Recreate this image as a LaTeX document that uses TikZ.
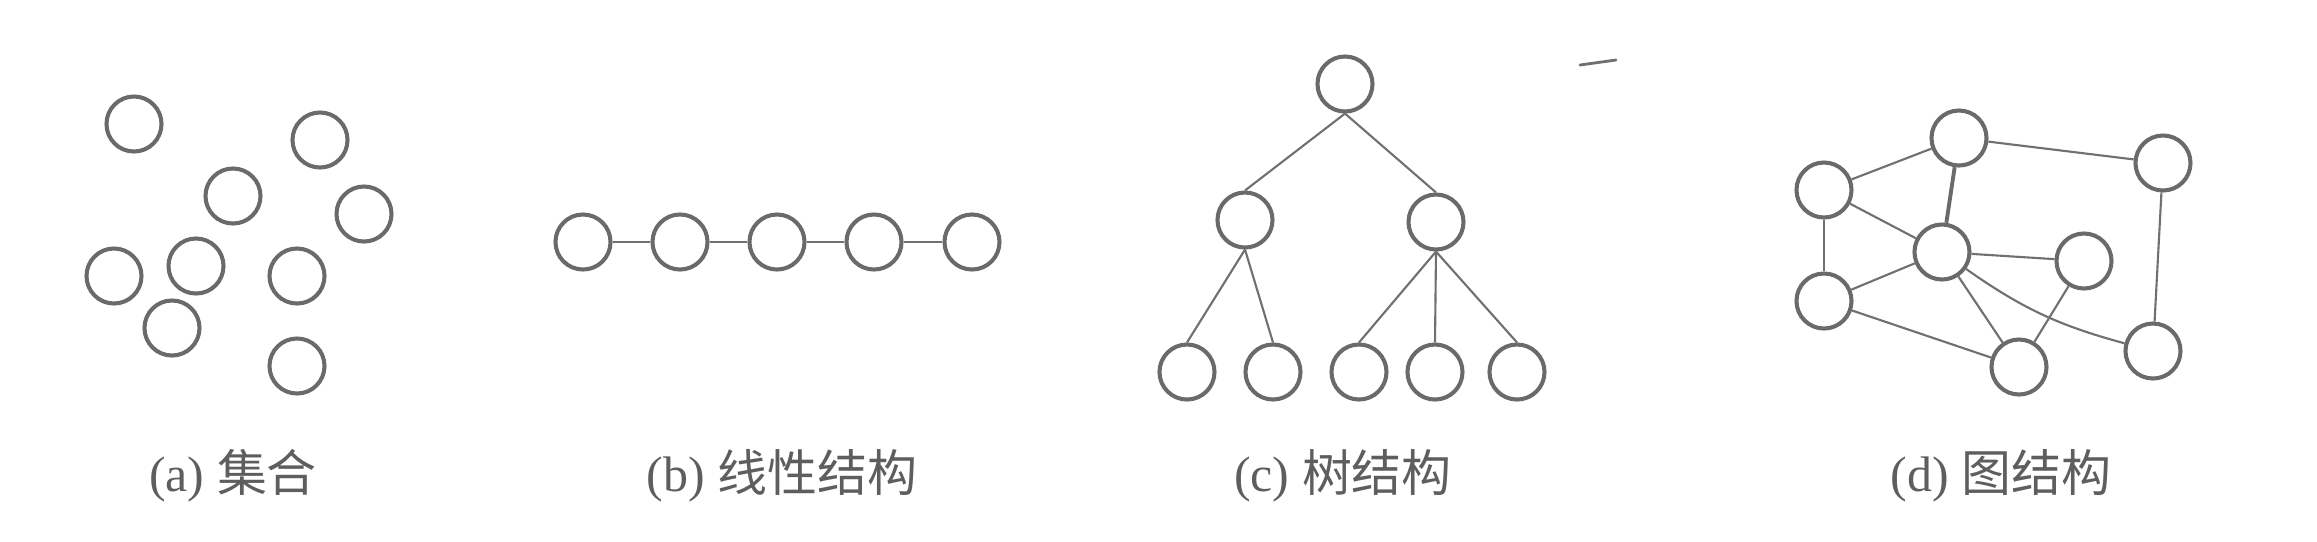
\documentclass[tikz,border=0pt]{standalone}
\usepackage{fontspec}
\setmainfont{Liberation Serif}
\newfontfamily\cjk{Noto Sans CJK SC}
\definecolor{ringgray}{HTML}{6A6A6A}
\definecolor{linegray}{HTML}{707070}
\definecolor{textgray}{HTML}{5E5E5E}
\begin{document}
\begin{tikzpicture}[x=0.01cm,y=-0.01cm,
  nd/.style={circle,draw=ringgray,line width=1.15pt,minimum size=0.55cm,inner sep=0pt},
  ln/.style={draw=linegray,line width=0.6pt},
  thk/.style={draw=ringgray,line width=1.1pt},
  lbl/.style={text=textgray,font=\fontsize{14.2pt}{17pt}\selectfont,inner sep=0pt},
  smudge/.style={draw=linegray,line width=0.8pt,line cap=round}]
\useasboundingbox (0,0) rectangle (2317,541);
\fill[white] (0,0) rectangle (2317,541);

% (a) set
\node[nd] (a1) at (134,124) {};
\node[nd] (a2) at (320,140) {};
\node[nd] (a3) at (233,196) {};
\node[nd] (a4) at (364,214) {};
\node[nd] (a5) at (114,276) {};
\node[nd] (a6) at (196,266) {};
\node[nd] (a7) at (297,276) {};
\node[nd] (a8) at (172,328) {};
\node[nd] (a9) at (297,366) {};
\node[lbl] (la) at (233,476) {(a) {\cjk 集合}};

% (b) linear
\node[nd] (b1) at (583,242) {};
\node[nd] (b2) at (680,242) {};
\node[nd] (b3) at (777,242) {};
\node[nd] (b4) at (874,242) {};
\node[nd] (b5) at (972,242) {};
\draw[ln] (b1) -- (b2);
\draw[ln] (b2) -- (b3);
\draw[ln] (b3) -- (b4);
\draw[ln] (b4) -- (b5);
\node[lbl] (lb) at (782,476) {(b) {\cjk 线性结构}};

% (c) tree
\node[nd] (c0) at (1345,84) {};
\node[nd] (c1) at (1245,220) {};
\node[nd] (c2) at (1436,222) {};
\node[nd] (c11) at (1187,372) {};
\node[nd] (c12) at (1273,372) {};
\node[nd] (c21) at (1359,372) {};
\node[nd] (c22) at (1435,372) {};
\node[nd] (c23) at (1517,372) {};
\draw[ln] (c0.south) -- (c1.north);
\draw[ln] (c0.south) -- (c2.north);
\draw[ln] (c1.south) -- (c11.north);
\draw[ln] (c1.south) -- (c12.north);
\draw[ln] (c2.south) -- (c21.north);
\draw[ln] (c2.south) -- (c22.north);
\draw[ln] (c2.south) -- (c23.north);
\node[lbl] (lc) at (1343,476) {(c) {\cjk 树结构}};

% scan mark
\coordinate (s1) at (1580,65);
\coordinate (s2) at (1616,60);
\draw[smudge] (s1) -- (s2);

% (d) graph
\node[nd] (dA) at (1959,138) {};
\node[nd] (dB) at (2163,163) {};
\node[nd] (dC) at (1824,190) {};
\node[nd] (dD) at (1942,252) {};
\node[nd] (dE) at (2084,261) {};
\node[nd] (dF) at (1824,301) {};
\node[nd] (dG) at (2019,367) {};
\node[nd] (dH) at (2153,351) {};
\draw[ln] (dC) -- (dA);
\draw[ln] (dA) -- (dB);
\draw[thk] (dA) -- (dD);
\draw[ln] (dC) -- (dD);
\draw[ln] (dC) -- (dF);
\draw[ln] (dD) -- (dF);
\draw[ln] (dD) -- (dE);
\draw[ln] (dD) -- (dG);
\draw[ln] (dD) to[bend right=10] (dH);
\draw[ln] (dF) -- (dG);
\draw[ln] (dG) -- (dE);
\draw[ln] (dB) -- (dH);
\node[lbl] (ld) at (2001,476) {(d) {\cjk 图结构}};
\end{tikzpicture}
\end{document}
